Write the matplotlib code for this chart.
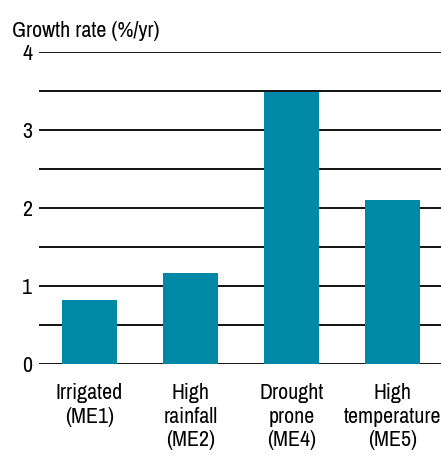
import matplotlib.pyplot as plt
from matplotlib import font_manager

names = set(f.name for f in font_manager.fontManager.ttflist)
prefer = ['Nimbus Sans Narrow', 'Archivo Narrow', 'Roboto Condensed']
fam = [n for n in prefer if n in names][:1] or ['DejaVu Sans']
plt.rcParams['font.family'] = fam + ['DejaVu Sans']

categories = ['Irrigated\n(ME1)', 'High\nrainfall\n(ME2)', 'Drought\nprone\n(ME4)', 'High\ntemperature\n(ME5)']
growth = [0.82, 1.17, 3.49, 2.10]
yticks = [0, 1, 2, 3, 4]

fig = plt.figure(figsize=(4.41, 4.63), dpi=100)

# size the font so "temperature" is about 98 px wide, like the original
probe = fig.text(0, 0, 'temperature', fontsize=10)
w = probe.get_window_extent(fig.canvas.get_renderer()).width
probe.remove()
fs = min(18, 10 * 98 / w)

ax = fig.add_axes([39 / 441, 1 - 364 / 463, 402 / 441, 312 / 463])

for i in range(9):
    ax.axhline(i * 0.5, color='black', lw=1.3, zorder=1)
ax.bar(range(len(growth)), growth, width=0.55, color='#0089a7', zorder=2)

ax.set_xlim(-0.5, 3.48)
ax.set_ylim(0, 4)
ax.set_yticks(yticks)
ax.set_yticklabels([str(v) for v in yticks], fontsize=fs)
ax.set_xticks(range(len(categories)))
ax.set_xticklabels(categories, fontsize=fs, linespacing=1.2)
ax.tick_params(length=0, pad=5)
ax.tick_params(axis='x', pad=14)
for s in ax.spines.values():
    s.set_visible(False)

fig.text(12 / 441, 1 - 37 / 463, 'Growth rate (%/yr)', fontsize=fs, va='baseline')

fig.savefig('out.png', dpi=100)
